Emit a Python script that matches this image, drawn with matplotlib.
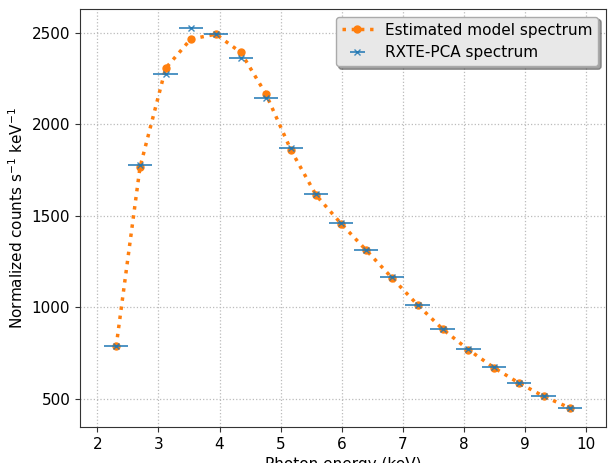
import numpy as np
import matplotlib
matplotlib.use('Agg')
import matplotlib.pyplot as plt

# photon energy bins (keV)
energy = np.array([2.31, 2.70, 3.12, 3.53, 3.94, 4.35, 4.76, 5.17, 5.58, 5.99,
                   6.40, 6.82, 7.24, 7.65, 8.07, 8.49, 8.90, 9.30, 9.73])
energy_err = np.full(len(energy), 0.2)

# RXTE-PCA measured spectrum
counts = np.array([786, 1776, 2277, 2528, 2493, 2366, 2147, 1872, 1620, 1460,
                   1313, 1163, 1014, 881, 770, 671, 586, 514, 450])

# estimated model spectrum
model = np.array([786, 1766, 2308, 2467, 2494, 2394, 2166, 1859, 1613, 1457,
                  1312, 1161, 1013, 880, 768, 669, 585, 513, 449])

fig = plt.figure(figsize=(6.09, 4.63), dpi=100)
ax = fig.add_axes([0.1314, 0.0778, 0.8637, 0.9028])

ax.plot(energy, model, color='tab:orange', linestyle=':', linewidth=2.5,
        marker='o', markersize=5, label='Estimated model spectrum', zorder=2)
ax.errorbar(energy, counts, xerr=energy_err, fmt='x', color='tab:blue',
            markersize=5, elinewidth=1.3, capsize=0, alpha=0.85,
            label='RXTE-PCA spectrum', zorder=3)

ax.set_xticks(range(2, 11))
ax.set_yticks([500, 1000, 1500, 2000, 2500])
ax.grid(True, color='#bbbbbb', linestyle=':', linewidth=0.9)
ax.set_axisbelow(True)
for sp in ax.spines.values():
    sp.set_color('#333333')
ax.tick_params(labelsize=11, color='#333333', length=3.5)

ax.set_xlabel('Photon energy (keV)', fontsize=11)
ax.set_ylabel(r'Normalized counts s$^{-1}$ keV$^{-1}$', fontsize=11)

leg = ax.legend(loc='upper right', fontsize=11, shadow=True, fancybox=True,
                facecolor='#e8e8e8', edgecolor='#aaaaaa', framealpha=1.0)

plt.savefig('out.png', dpi=100)
plt.close()
